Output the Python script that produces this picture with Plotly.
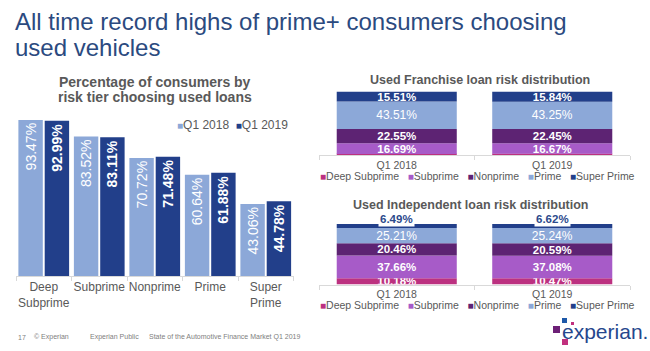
import plotly.graph_objects as go

W, H = 650, 351
def px(x): return x / W
def py(y): return 1 - y / H

FONT = "Liberation Sans, Arial, sans-serif"
GRAY = "#595959"

# ---------- Left chart data ----------
tiers = ["Deep<br>Subprime", "Subprime", "Nonprime", "Prime", "Super<br>Prime"]
periods = ["Q1 2018", "Q1 2019"]
q1_2018 = [93.47, 83.52, 70.72, 60.64, 43.06]
q1_2019 = [92.99, 83.11, 71.48, 61.88, 44.78]
period_colors = ["#8ca8d8", "#223f8a"]

# ---------- Right charts data ----------
dist_tiers = ["Deep Subprime", "Subprime", "Nonprime", "Prime", "Super Prime"]
tier_colors = ["#bc3180", "#a75bc8", "#5d2373", "#8ca8d8", "#223f8a"]
franchise_deep = [1.74, 1.79]      # not labelled in the source (estimated)
franchise_sub = [16.69, 16.67]
franchise_non = [22.55, 22.45]
franchise_prime = [43.51, 43.25]
franchise_super = [15.51, 15.84]
indep_deep = [10.18, 10.47]
indep_sub = [37.66, 37.08]
indep_non = [20.46, 20.59]
indep_prime = [25.21, 25.24]
indep_super = [6.49, 6.62]

fig = go.Figure()

# Left grouped bars
for name, vals, col, bold in [(periods[0], q1_2018, period_colors[0], False),
                              (periods[1], q1_2019, period_colors[1], True)]:
    fig.add_trace(go.Bar(
        x=tiers, y=vals, name=name, marker=dict(color=col, line=dict(width=0)),
        text=[f"{v:.2f}%" for v in vals], textposition="inside",
        insidetextanchor="end", textangle=-90, constraintext="none",
        textfont=dict(color="white", size=14, family=FONT,
                      weight="bold" if bold else "normal"),
        xaxis="x", yaxis="y", showlegend=False, hoverinfo="skip"))

def stacked(series, axis_x, axis_y, hide_text):
    base = [0.0, 0.0]
    for i, (name, vals) in enumerate(zip(dist_tiers, series)):
        txt = ["" if i in hide_text else f"{v:.2f}%" for v in vals]
        fig.add_trace(go.Bar(
            x=periods, y=vals, base=list(base), name=name,
            marker=dict(color=tier_colors[i], line=dict(width=0)),
            width=0.772, offset=-0.386,
            text=txt, textposition="inside", insidetextanchor="middle",
            constraintext="none",
            textfont=dict(color="white", size=12 if name == "Prime" else 11.5,
                          family=FONT,
                          weight="normal" if name == "Prime" else "bold"),
            xaxis=axis_x, yaxis=axis_y, showlegend=False, hoverinfo="skip"))
        base = [b + v for b, v in zip(base, vals)]
    return base

stacked([franchise_deep, franchise_sub, franchise_non, franchise_prime, franchise_super],
        "x2", "y2", hide_text={0})
tot_ind = stacked([indep_deep, indep_sub, indep_non, indep_prime, indep_super],
                  "x3", "y3", hide_text={4})

ann = []
# Super prime callouts above the independent bars
for p, v, t in zip(periods, indep_super, tot_ind):
    ann.append(dict(x=p, y=t, xref="x3", yref="y3", text=f"<b>{v:.2f}%</b>",
                    showarrow=False, yanchor="middle", yshift=5,
                    bgcolor="white", borderpad=1,
                    font=dict(size=11.5, color="#2c4a8c", family=FONT)))

def txt(x, y, s, size, color=GRAY, xanchor="left", bold=False):
    ann.append(dict(x=px(x), y=py(y), xref="paper", yref="paper",
                    text=f"<b>{s}</b>" if bold else s, showarrow=False,
                    xanchor=xanchor, yanchor="middle",
                    font=dict(size=size, color=color, family=FONT)))

# Titles
txt(13, 22, "All time record highs of prime+ consumers choosing", 24, "#2b4a80")
txt(13, 47, "used vehicles", 24, "#2b4a80")
txt(155, 82, "Percentage of consumers by", 14, GRAY, "center", True)
txt(155, 97, "risk tier choosing used loans", 14, GRAY, "center", True)
txt(480, 80, "Used Franchise loan risk distribution", 12.5, GRAY, "center", True)
txt(470, 205, "Used Independent loan risk distribution", 12.5, GRAY, "center", True)

# Legends (built from names and colors)
def legend_row(names, colors, x, y, size, sep, msize):
    parts = [f'<span style="color:{c};font-size:{msize}px">■</span>{n}'
             for n, c in zip(names, colors)]
    txt(x, y, sep.join(parts), size)

legend_row(periods, period_colors, 175, 125, 12, "  ", 10)
legend_row(dist_tiers, tier_colors, 318, 176.5, 10.5, "   ", 10)
legend_row(dist_tiers, tier_colors, 318, 305, 10.5, "   ", 10)

# Footer
FG = "#808080"
txt(16, 337, "17", 7, FG)
txt(32, 337, "© Experian", 7, FG)
txt(88, 337, "Experian Public", 7, FG)
txt(147, 337, "State of the Automotive Finance Market Q1 2019", 7, FG)

# Logo
txt(560, 331, "experian.", 21, "#26478d")
shapes = []
for (x0, y0, x1, y1, c) in [(562, 318, 567, 323, "#1d58a8"), (571, 322, 574, 325, "#c1307e"),
                            (553, 326, 560, 333, "#6d2077"), (562, 339, 568, 345, "#c1307e")]:
    shapes.append(dict(type="rect", xref="paper", yref="paper", x0=px(x0), x1=px(x1),
                       y0=py(y1), y1=py(y0), fillcolor=c, line=dict(width=0)))

axis_common = dict(showline=True, linecolor="#d9d9d9", linewidth=1, ticks="outside",
                   tickson="boundaries", ticklen=4, tickcolor="#d9d9d9", tickangle=0,
                   showgrid=False, zeroline=False, fixedrange=True)

fig.update_layout(
    width=W, height=H, margin=dict(l=0, r=0, t=0, b=0),
    paper_bgcolor="white", plot_bgcolor="white",
    font=dict(family=FONT, color=GRAY),
    barmode="group", bargap=0.052, bargroupgap=0.072,
    showlegend=False,
    xaxis=dict(domain=[px(16), px(293.5)], anchor="y",
               tickfont=dict(size=12, color=GRAY), **axis_common),
    yaxis=dict(domain=[py(276), py(109)], range=[0, 100], visible=False),
    xaxis2=dict(domain=[px(319), px(630)], anchor="y2",
                tickfont=dict(size=10.5, color=GRAY), **axis_common),
    yaxis2=dict(domain=[py(155), py(91.6)], range=[0, 100], visible=False),
    xaxis3=dict(domain=[px(319), px(630)], anchor="y3",
                tickfont=dict(size=10.5, color=GRAY), **axis_common),
    yaxis3=dict(domain=[py(284.5), py(224)], range=[0, 100], visible=False),
    annotations=ann, shapes=shapes,
)

fig.write_html("out.html")
